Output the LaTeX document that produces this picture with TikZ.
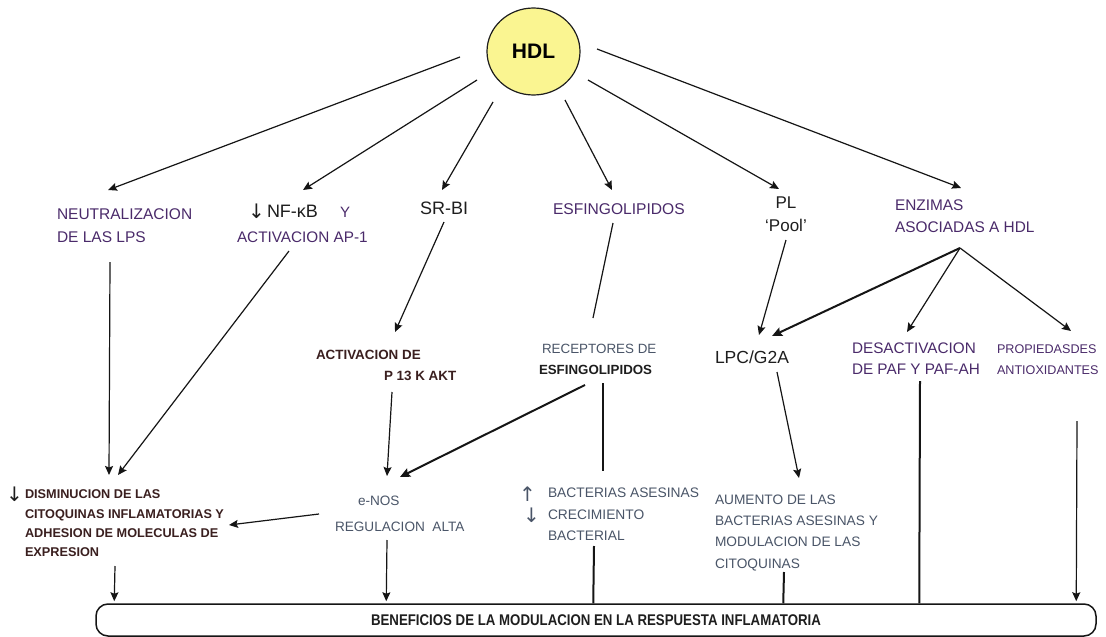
\documentclass[tikz,border=0pt]{standalone}
\usepackage{fontspec}
\setmainfont{Liberation Sans}
\newfontfamily\arrfont{DejaVu Sans}
\usetikzlibrary{arrows.meta,calc,shapes.geometric}
\definecolor{purp}{HTML}{4A2A6A}
\definecolor{grayt}{HTML}{4A5568}
\definecolor{darkt}{HTML}{1E1E1E}
\definecolor{redt}{HTML}{3A1F1F}
\definecolor{hdlfill}{HTML}{FAF591}
\definecolor{linec}{HTML}{151515}
\tikzset{
  txt/.style={inner sep=0pt, outer sep=0pt, align=left},
  arr/.style={draw=linec, line width=1.2pt, -{Stealth[length=9pt,width=8pt,inset=1.5pt]}},
  tarr/.style={draw=linec, line width=2pt, -{Stealth[length=10pt,width=9pt,inset=1.5pt]}},
  ln/.style={draw=linec, line width=1.2pt},
  tln/.style={draw=linec, line width=2pt},
  glyph/.style={inner sep=0pt, outer sep=0pt, font=\arrfont\fontsize{20}{22}\selectfont},
}
\newcommand{\fsz}[2]{\fontsize{#1}{#2}\selectfont}
\begin{document}
\begin{tikzpicture}[x=1pt,y=-1pt]
\useasboundingbox (0,0) rectangle (1106,637);
\fill[white] (0,0) rectangle (1106,637);
% HDL
\node[ellipse, draw=darkt, line width=1.2pt, fill=hdlfill, minimum width=93pt, minimum height=87pt, inner sep=0pt,
      font=\fsz{21}{24}\bfseries] (hdl) at (533.5,51.5) {HDL};
% level 1
\node[txt, anchor=north west, text=purp, font=\fsz{15.5}{22.5}] (neut) at (57,209) {NEUTRALIZACION\\DE LAS LPS};
\node[glyph, anchor=base west, text=darkt] (nfar) at (248,218) {↓};
\node[txt, anchor=base west, text=darkt, font=\fsz{18}{20}] (nfkb) at (267,217) {NF-κB};
\node[txt, anchor=base west, text=purp, font=\fsz{15}{20}] (ny) at (340,217) {Y};
\node[txt, anchor=base west, text=purp, font=\fsz{15.3}{20}] (ap1) at (237,242) {ACTIVACION AP-1};
\node[txt, anchor=base west, text=darkt, font=\fsz{18}{20}] (srbi) at (420,214) {SR-BI};
\node[txt, anchor=base west, text=purp, font=\fsz{15.6}{20}] (esf) at (553,214) {ESFINGOLIPIDOS};
\node[txt, anchor=north, align=center, text=darkt, font=\fsz{17}{23}] (pl) at (786,197) {PL\\‘Pool’};
\node[txt, anchor=north west, text=purp, font=\fsz{15.4}{22}] (enz) at (895,200) {ENZIMAS\\ASOCIADAS A HDL};
% level 2
\node[txt, anchor=base west, text=redt, font=\fsz{13.4}{20}\bfseries] (act1) at (316,359) {ACTIVACION DE};
\node[txt, anchor=base west, text=redt, font=\fsz{13.4}{20}\bfseries] (act2) at (384,380) {P 13 K AKT};
\node[txt, anchor=base west, text=grayt, font=\fsz{13.4}{20}] (rec1) at (542,353) {RECEPTORES DE};
\node[txt, anchor=base west, text=darkt, font=\fsz{13.3}{20}\bfseries] (rec2) at (539,374) {ESFINGOLIPIDOS};
\node[txt, anchor=base west, text=darkt, font=\fsz{17.5}{20}] (lpc) at (715,363) {LPC/G2A};
\node[txt, anchor=north west, text=purp, font=\fsz{15.3}{21}] (desact) at (852,343) {DESACTIVACION\\DE PAF Y PAF-AH};
\node[txt, anchor=north west, text=purp, font=\fsz{12.6}{21}] (prop) at (997,345) {PROPIEDASDES\\ANTIOXIDANTES};
% level 3
\node[glyph, anchor=base west, text=darkt] (darr) at (6,501) {↓};
\node[txt, anchor=north west, text=redt, font=\fsz{12.7}{19.3}\bfseries] (dism) at (25,490)
  {DISMINUCION DE LAS\\CITOQUINAS INFLAMATORIAS Y\\ADHESION DE MOLECULAS DE\\EXPRESION};
\node[txt, anchor=base west, text=grayt, font=\fsz{13.6}{20}] (enos1) at (358,505) {e-NOS};
\node[txt, anchor=base west, text=grayt, font=\fsz{13.6}{20}] (enos2) at (335,531) {REGULACION\ \ ALTA};
\node[glyph, anchor=base west, text=grayt] (bup) at (519,501) {↑};
\node[glyph, anchor=base west, text=grayt] (bdn) at (523,522) {↓};
\node[txt, anchor=north west, text=grayt, font=\fsz{13.8}{21.5}] (bact) at (548,488)
  {BACTERIAS ASESINAS\\CRECIMIENTO\\BACTERIAL};
\node[txt, anchor=north west, text=grayt, font=\fsz{13.7}{21.2}] (aum) at (715,495)
  {AUMENTO DE LAS\\BACTERIAS ASESINAS Y\\MODULACION DE LAS\\CITOQUINAS};
% bottom box
\node[draw=linec, line width=1.5pt, rounded corners=12pt, minimum width=1000pt, minimum height=32pt, inner sep=0pt,
      text=darkt] (benef) at (596,620)
  {\scalebox{0.855}[1]{\fsz{15.5}{18}\bfseries BENEFICIOS DE LA MODULACION EN LA RESPUESTA INFLAMATORIA}};
% connectors from HDL
\draw[arr] ($(hdl.center)+(-73.5,5.5)$) -- ($(neut.north west)+(51,-19)$);
\draw[arr] ($(hdl.center)+(-56.5,28.5)$) -- ($(nfkb.base west)+(36,-27)$);
\draw[arr] ($(hdl.center)+(-40.5,50.5)$) -- ($(srbi.base west)+(22,-24)$);
\draw[arr] ($(hdl.center)+(31.5,48.5)$) -- ($(esf.base west)+(59,-24)$);
\draw[arr] ($(hdl.center)+(54.5,28.5)$) -- ($(pl.north)+(-7,-8)$);
\draw[arr] ($(hdl.center)+(63.5,-2.5)$) -- ($(enz.north west)+(66,-12)$);
% level 1 -> 2/3
\draw[arr] ($(neut.north west)+(53,53)$) -- ($(dism.north west)+(84,-15)$);
\draw[arr] ($(ap1.base west)+(52,9)$) -- ($(dism.north west)+(93,-15)$);
\draw[arr] ($(srbi.base west)+(24,8)$) -- ($(act1.base west)+(79,-27)$);
\draw[ln] ($(esf.base west)+(60,9)$) -- ($(rec1.base west)+(51,-35)$);
\draw[arr] ($(pl.north)+(0,43)$) -- ($(lpc.base west)+(44,-28)$);
\draw[tarr] ($(enz.north west)+(65,48)$) -- ($(lpc.base west)+(57,-27)$);
\draw[arr] ($(enz.north west)+(65,48)$) -- ($(desact.north west)+(55,-11)$);
\draw[arr] ($(enz.north west)+(65,48)$) -- ($(prop.north west)+(74,-14)$);
% level 2 -> 3
\draw[arr] ($(act2.base west)+(8,12)$) -- ($(enos1.base west)+(29,-29)$);
\draw[tarr] ($(rec2.base west)+(46,11)$) -- ($(enos1.base west)+(42,-28)$);
\draw[tln] ($(rec2.base west)+(64,9)$) -- ($(bact.north west)+(55,-17)$);
\draw[arr] ($(lpc.base west)+(62,9)$) -- ($(aum.north west)+(84,-17)$);
\draw[arr] ($(enos2.base west)+(-16,-17)$) -- ($(dism.north west)+(204,35)$);
% to bottom box
\draw[arr] ($(dism.north west)+(90,76)$) -- ($(benef.north west)+(19,-2)$);
\draw[arr] ($(enos2.base west)+(52,9)$) -- ($(benef.north west)+(291,-2)$);
\draw[tln] ($(bact.north west)+(46,58)$) -- ($(benef.north west)+(498,0)$);
\draw[tln] ($(aum.north west)+(69,77)$) -- ($(benef.north west)+(688,0)$);
\draw[tln] ($(desact.north west)+(68,38)$) -- ($(benef.north west)+(824,0)$);
\draw[arr] ($(prop.north west)+(80,76)$) -- ($(benef.north west)+(981,-2)$);
\end{tikzpicture}
\end{document}
